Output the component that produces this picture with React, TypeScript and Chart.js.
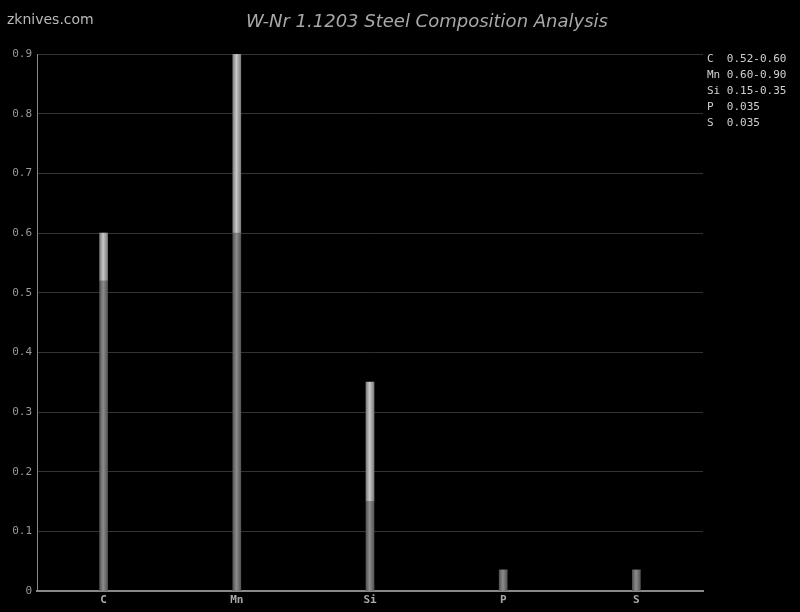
import React, { useEffect, useRef } from "react";
import { Chart, registerables } from "chart.js";

Chart.register(...registerables);

const elements = ["C", "Mn", "Si", "P", "S"];
const minValues = [0.52, 0.6, 0.15, 0.035, 0.035];
const maxValues = [0.6, 0.9, 0.35, 0.035, 0.035];
const legendLines = ["C  0.52-0.60", "Mn 0.60-0.90", "Si 0.15-0.35", "P  0.035", "S  0.035"];
const yTicks = [0, 0.1, 0.2, 0.3, 0.4, 0.5, 0.6, 0.7, 0.8, 0.9];
const titleText = "W-Nr 1.1203 Steel Composition Analysis";
const siteText = "zknives.com";

function makeGradient(chart: any, idx: number, edge: string, mid: string, fallback: string) {
  if (!chart.chartArea || idx === undefined || !chart.scales.x) return fallback;
  const x = chart.scales.x.getPixelForValue(idx);
  const g = chart.ctx.createLinearGradient(x - 4, 0, x + 4, 0);
  g.addColorStop(0, edge);
  g.addColorStop(0.45, mid);
  g.addColorStop(1, edge);
  return g;
}

const decorPlugin = {
  id: "decor",
  beforeDraw(chart: any) {
    const c = chart.ctx;
    c.save();
    c.fillStyle = "#000";
    c.fillRect(0, 0, chart.width, chart.height);
    c.restore();
  },
  afterDraw(chart: any) {
    const c = chart.ctx;
    c.save();
    c.fillStyle = "#b8b8b8";
    c.font = "14px 'DejaVu Sans'";
    c.textBaseline = "middle";
    c.textAlign = "left";
    c.fillText(siteText, 7, 20);
    c.fillStyle = "#a8a8a8";
    c.font = "italic 18px 'DejaVu Sans'";
    c.textAlign = "center";
    c.fillText(titleText, 427, 22);
    c.fillStyle = "#d0d0d0";
    c.font = "11px 'DejaVu Sans Mono'";
    c.textAlign = "left";
    legendLines.forEach((t, i) => {
      c.fillText(t, 707, 59 + i * 16);
    });
    c.restore();
  },
};

export default function App() {
  const ref = useRef<HTMLCanvasElement>(null);
  useEffect(() => {
    document.body.style.margin = "0";
    document.body.style.background = "#000";
    const rangeValues = maxValues.map((v, i) => +(v - minValues[i]).toFixed(3));
    const chart = new Chart(ref.current!, {
      type: "bar",
      data: {
        labels: elements,
        datasets: [
          {
            label: "min",
            data: minValues,
            backgroundColor: (ctx: any) => makeGradient(ctx.chart, ctx.dataIndex, "#555555", "#8c8c8c", "#777"),
            barThickness: 8,
            borderWidth: 0,
          },
          {
            label: "max",
            data: rangeValues,
            backgroundColor: (ctx: any) => makeGradient(ctx.chart, ctx.dataIndex, "#7e7e7e", "#c8c8c8", "#bbb"),
            barThickness: 8,
            borderWidth: 0,
          },
        ],
      },
      options: {
        responsive: false,
        animation: false,
        events: [],
        layout: { padding: { top: 54, right: 97, left: 0, bottom: 0 } },
        plugins: { legend: { display: false }, tooltip: { enabled: false }, title: { display: false } },
        scales: {
          x: {
            stacked: true,
            grid: { display: false, drawTicks: false },
            border: { display: true, color: "#888", width: 2 },
            ticks: { color: "#aaa", font: { family: "'DejaVu Sans Mono'", size: 11, weight: "bold" }, padding: 3 },
            afterFit: (s: any) => { s.height = 21; },
          },
          y: {
            stacked: true,
            min: 0,
            max: 0.9,
            afterBuildTicks: (s: any) => { s.ticks = yTicks.map((v) => ({ value: v })); },
            grid: { color: "#333", drawTicks: false },
            border: { display: true, color: "#888", width: 1 },
            ticks: {
              color: "#999",
              font: { family: "'DejaVu Sans Mono'", size: 11 },
              padding: 5,
              callback: (v: any) => String(+(+v).toFixed(1)),
            },
            afterFit: (s: any) => { s.width = 37; },
          },
        },
      },
      plugins: [decorPlugin],
    } as any);
    return () => chart.destroy();
  }, []);
  return <canvas ref={ref} width={800} height={612} style={{ display: "block" }} />;
}
